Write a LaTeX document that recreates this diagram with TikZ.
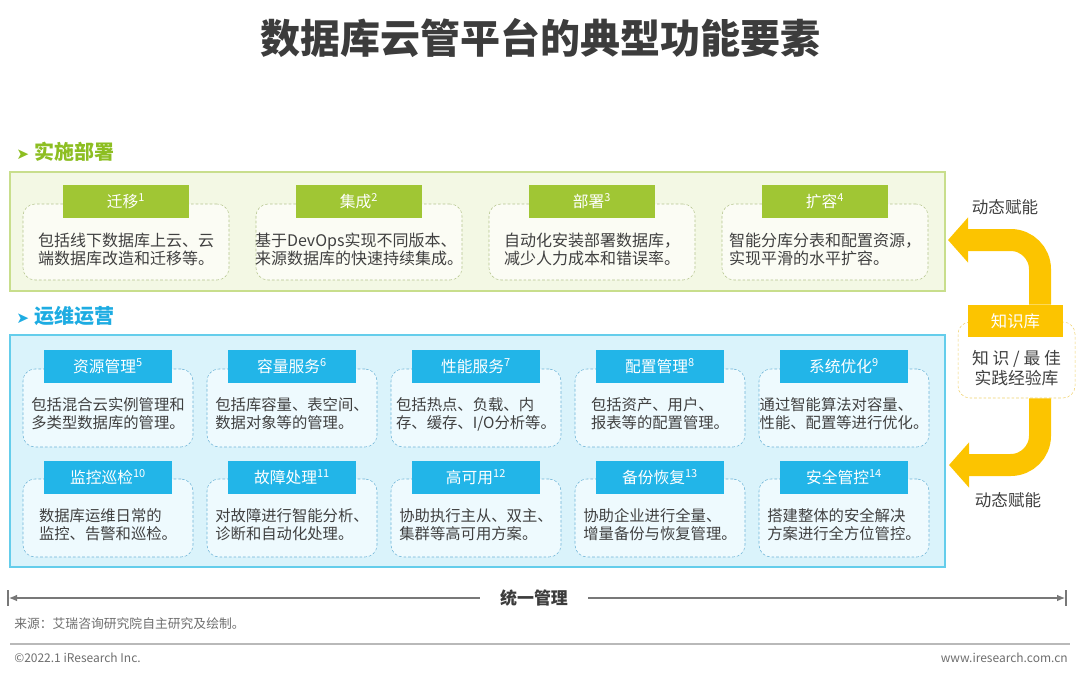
\documentclass[tikz,border=0pt]{standalone}
\usepackage{fontspec}
\setmainfont{Noto Sans CJK SC}
\newfontfamily\symfont{DejaVu Sans}
\usepackage{xcolor}
\usetikzlibrary{arrows.meta,positioning}

\definecolor{titlegray}{RGB}{60,60,60}
\definecolor{txtgray}{RGB}{64,64,64}
\definecolor{gtabc}{RGB}{160,198,52}
\definecolor{ghead}{RGB}{141,190,34}
\definecolor{gfill}{RGB}{243,248,228}
\definecolor{gborder}{RGB}{200,222,140}
\definecolor{gboxfill}{RGB}{251,252,244}
\definecolor{gdash}{RGB}{180,196,140}
\definecolor{btabc}{RGB}{34,181,232}
\definecolor{bhead}{RGB}{30,172,226}
\definecolor{bfill}{RGB}{218,243,251}
\definecolor{bborder}{RGB}{100,205,235}
\definecolor{bboxfill}{RGB}{238,250,254}
\definecolor{bdash}{RGB}{110,180,215}
\definecolor{kbyellow}{RGB}{252,196,0}
\definecolor{kbdash}{RGB}{240,210,110}
\definecolor{linegray}{RGB}{120,120,120}
\definecolor{rulegray}{RGB}{185,185,185}
\definecolor{footgray}{RGB}{110,110,110}

\begin{document}
\begin{tikzpicture}[x=0.75pt,y=-0.75pt,
    gouter/.style={draw=gborder, fill=gfill, line width=1.2pt, inner sep=0pt, minimum width=701.25pt, minimum height=89.25pt},
    bouter/.style={draw=bborder, fill=bfill, line width=1.2pt, inner sep=0pt, minimum width=701.25pt, minimum height=174pt},
    gbox/.style={draw=gdash, fill=gboxfill, dashed, dash pattern=on 2pt off 1.5pt, rounded corners=9pt, inner sep=0pt, minimum width=154.5pt, minimum height=57pt},
    bbox/.style={draw=bdash, fill=bboxfill, dashed, dash pattern=on 2pt off 1.5pt, rounded corners=9pt, inner sep=0pt, minimum width=127.5pt, minimum height=58.5pt},
    gtab/.style={fill=gtabc, text=white, inner sep=0pt, minimum width=94.5pt, minimum height=24.75pt, font=\fontsize{11.8pt}{13pt}\selectfont},
    btab/.style={fill=btabc, text=white, inner sep=0pt, minimum width=96pt, minimum height=24.75pt, font=\fontsize{11.8pt}{13pt}\selectfont},
    gdesc/.style={text=txtgray, align=left, inner sep=0pt, font=\fontsize{12pt}{13.5pt}\selectfont},
    bdesc/.style={text=txtgray, align=left, inner sep=0pt, font=\fontsize{11.5pt}{13.5pt}\selectfont},
    heading/.style={anchor=west, inner sep=0pt, font=\fontsize{15pt}{17pt}\selectfont\bfseries},
    kbarrow/.style={draw=kbyellow, line width=16.5pt, rounded corners=22pt, -{Triangle[length=15pt,width=33pt]}},
    mline/.style={draw=linegray, line width=0.8pt, -{Latex[length=6pt,width=5pt]}}
  ]
  \useasboundingbox (0,0) rectangle (1080,677);

  % Title
  \node[text=titlegray, font=\fontsize{30pt}{34pt}\selectfont\bfseries] (title) at (540,38) {数据库云管平台的典型功能要素};

  % Section 1: deployment
  \node[heading, text=ghead] (sec1) at (16,152) {{\symfont\fontsize{11.5pt}{12pt}\selectfont ➤}\hspace{4pt}实施部署};
  \node[gouter] (deploy) at (477.5,231.5) {};

  \node[gbox] (mig) at (126,242) {};
  \node[gtab] (mig-t) at (126,201.5) {迁移\textsuperscript{1}};
  \node[gdesc] (mig-d) at (126,249) {包括线下数据库上云、云\\端数据库改造和迁移等。};

  \node[gbox] (integ) at (359,242) {};
  \node[gtab] (integ-t) at (359,201.5) {集成\textsuperscript{2}};
  \node[gdesc] (integ-d) at (359,249) {基于DevOps实现不同版本、\\来源数据库的快速持续集成。};

  \node[gbox] (depl) at (592,242) {};
  \node[gtab] (depl-t) at (592,201.5) {部署\textsuperscript{3}};
  \node[gdesc] (depl-d) at (592,249) {自动化安装部署数据库，\\减少人力成本和错误率。};

  \node[gbox] (scale) at (825,242) {};
  \node[gtab] (scale-t) at (825,201.5) {扩容\textsuperscript{4}};
  \node[gdesc] (scale-d) at (825,249) {智能分库分表和配置资源，\\实现平滑的水平扩容。};

  % Section 2: operation
  \node[heading, text=bhead] (sec2) at (16,316) {{\symfont\fontsize{11.5pt}{12pt}\selectfont ➤}\hspace{4pt}运维运营};
  \node[bouter] (ops) at (477.5,451) {};

  \node[bbox] (res) at (108,408) {};
  \node[btab] (res-t) at (108,366.5) {资源管理\textsuperscript{5}};
  \node[bdesc] (res-d) at (108,414) {包括混合云实例管理和\\多类型数据库的管理。};

  \node[bbox] (cap) at (292,408) {};
  \node[btab] (cap-t) at (292,366.5) {容量服务\textsuperscript{6}};
  \node[bdesc] (cap-d) at (292,414) {包括库容量、表空间、\\数据对象等的管理。};

  \node[bbox] (perf) at (476,408) {};
  \node[btab] (perf-t) at (476,366.5) {性能服务\textsuperscript{7}};
  \node[bdesc] (perf-d) at (476,414) {包括热点、负载、内\\存、缓存、I/O分析等。};

  \node[bbox] (conf) at (660,408) {};
  \node[btab] (conf-t) at (660,366.5) {配置管理\textsuperscript{8}};
  \node[bdesc] (conf-d) at (660,414) {包括资产、用户、\\报表等的配置管理。};

  \node[bbox] (opt) at (844,408) {};
  \node[btab] (opt-t) at (844,366.5) {系统优化\textsuperscript{9}};
  \node[bdesc] (opt-d) at (844,414) {通过智能算法对容量、\\性能、配置等进行优化。};

  \node[bbox] (mon) at (108,518) {};
  \node[btab] (mon-t) at (108,477.5) {监控巡检\textsuperscript{10}};
  \node[bdesc] (mon-d) at (108,525) {数据库运维日常的\\监控、告警和巡检。};

  \node[bbox] (fault) at (292,518) {};
  \node[btab] (fault-t) at (292,477.5) {故障处理\textsuperscript{11}};
  \node[bdesc] (fault-d) at (292,525) {对故障进行智能分析、\\诊断和自动化处理。};

  \node[bbox] (ha) at (476,518) {};
  \node[btab] (ha-t) at (476,477.5) {高可用\textsuperscript{12}};
  \node[bdesc] (ha-d) at (476,525) {协助执行主从、双主、\\集群等高可用方案。};

  \node[bbox] (bak) at (660,518) {};
  \node[btab] (bak-t) at (660,477.5) {备份恢复\textsuperscript{13}};
  \node[bdesc] (bak-d) at (660,525) {协助企业进行全量、\\增量备份与恢复管理。};

  \node[bbox] (sec) at (844,518) {};
  \node[btab] (sec-t) at (844,477.5) {安全管控\textsuperscript{14}};
  \node[bdesc] (sec-d) at (844,525) {搭建整体的安全解决\\方案进行全方位管控。};

  % Knowledge base and feedback arrows
  \coordinate (kbx) at (1040,0);
  \coordinate (upTip) at (948,240);
  \coordinate (lowTip) at (949,465);
  \node[draw=kbdash, fill=white, dashed, dash pattern=on 2pt off 1.5pt, rounded corners=9pt, inner sep=0pt, minimum width=87.75pt, minimum height=57pt] (kb) at (1016.5,360) {};
  \draw[kbarrow] (kb.north -| kbx) ++(0,-17) |- (upTip);
  \draw[kbarrow] (kb.south -| kbx) |- (lowTip);
  \node[fill=kbyellow, text=white, inner sep=0pt, minimum width=71.25pt, minimum height=24pt, font=\fontsize{12.3pt}{14pt}\selectfont] (kb-t) at (1015.5,321) {知识库};
  \node[text=txtgray, align=center, inner sep=0pt, font=\fontsize{12.6pt}{15.5pt}\selectfont] (kb-d) at (1016.5,368) {知 识 / 最 佳\\实践经验库};
  \node[text=txtgray, font=\fontsize{12.4pt}{14pt}\selectfont] (dyn1) at (1005,207) {动态赋能};
  \node[text=txtgray, font=\fontsize{12.4pt}{14pt}\selectfont] (dyn2) at (1008,500) {动态赋能};

  % Unified management
  \coordinate (uniL) at (9,598);
  \coordinate (uniR) at (1065,598);
  \node[text=titlegray, inner xsep=15pt, font=\fontsize{12.7pt}{14pt}\selectfont\bfseries] (uni) at (534,598) {统一管理};
  \draw[mline] (uni.west) -- (uniL);
  \draw[mline] (uni.east) -- (uniR);
  \draw[linegray, line width=0.8pt] (8,590) -- (8,606);
  \draw[linegray, line width=0.8pt] (1066,590) -- (1066,606);

  % Source and footer
  \node[anchor=west, text=footgray, inner sep=0pt, font=\fontsize{9.6pt}{11pt}\selectfont] (src) at (14,624) {来源：艾瑞咨询研究院自主研究及绘制。};
  \draw[rulegray, line width=1.2pt] (10,644) -- (1070,644);
  \node[anchor=west, text=footgray, inner sep=0pt, font=\fontsize{9pt}{11pt}\selectfont] (copy) at (14,658) {©2022.1 iResearch Inc.};
  \node[anchor=east, text=footgray, inner sep=0pt, font=\fontsize{9pt}{11pt}\selectfont] (web) at (1068,658) {www.iresearch.com.cn};
\end{tikzpicture}
\end{document}
